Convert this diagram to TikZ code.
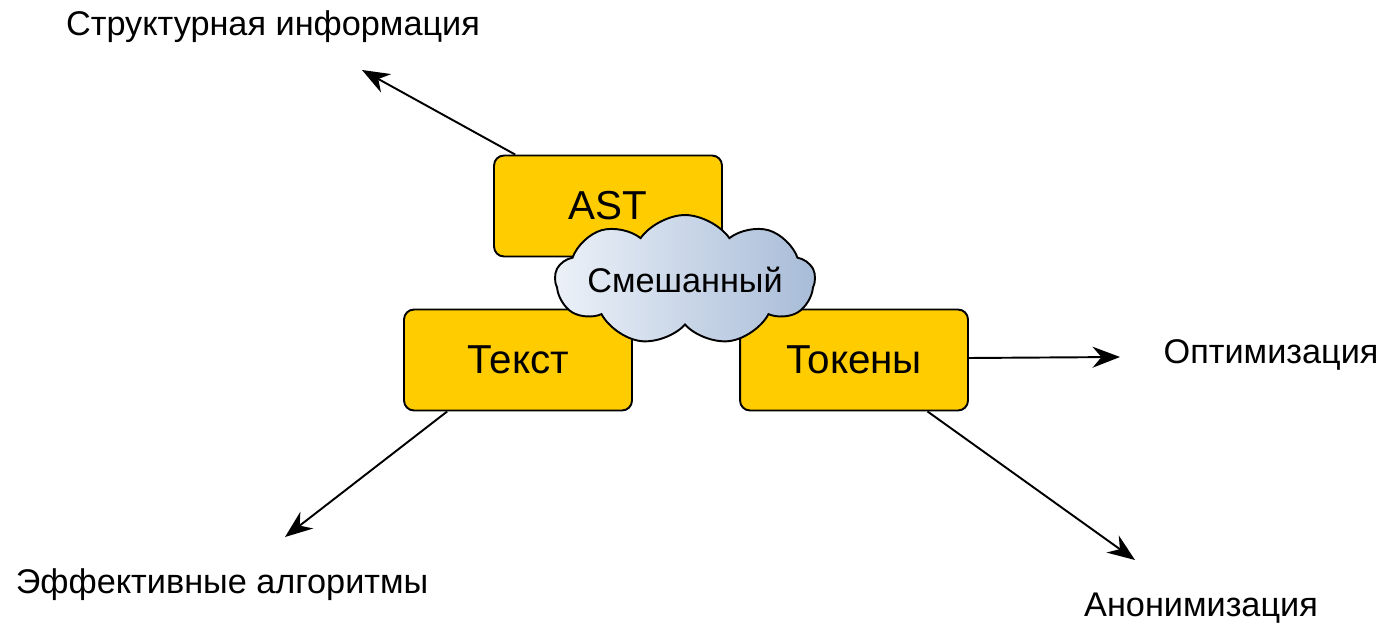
\documentclass[tikz,border=0pt]{standalone}
\usepackage{fontspec}
\setmainfont{Liberation Sans}
\usetikzlibrary{shapes.symbols,arrows.meta}
\definecolor{boxgold}{RGB}{255,204,0}
\definecolor{cloudlight}{RGB}{236,241,248}
\definecolor{clouddark}{RGB}{168,188,216}

\begin{document}
\begin{tikzpicture}[x=0.02cm,y=-0.02cm,
  kind/.style={rectangle,rounded corners=0.2cm,draw,line width=1.1pt,fill=boxgold,
    minimum width=4.56cm,minimum height=2.02cm,inner sep=0pt,font=\fontsize{23}{27}\selectfont},
  mixcloud/.style={cloud,cloud puffs=9,cloud puff arc=110,cloud ignores aspect,draw,line width=1.1pt,
    left color=cloudlight,right color=clouddark,minimum width=5.2cm,minimum height=2.6cm,
    inner xsep=-9pt,inner ysep=-4pt,font=\fontsize{19.5}{23}\selectfont},
  use/.style={font=\fontsize{19.5}{23}\selectfont,inner sep=0pt},
  arr/.style={-{Stealth[length=0.55cm,width=0.42cm]},line width=1.1pt}]
\useasboundingbox (0,0) rectangle (1381,625);
\node (ast)[kind] at (608,206) {AST};
\node (text)[kind] at (518,360) {Текст};
\node (tokens)[kind] at (854,360) {Токены};
\node (mix)[mixcloud] at (685,280) {Смешанный};
% targets
\node (struct)[use] at (273,27) {Структурная информация};
\node (opt)[use] at (1271,355) {Оптимизация};
\node (eff)[use] at (222,585) {Эффективные алгоритмы};
\node (anon)[use] at (1201,608) {Анонимизация};
\coordinate (tstruct) at (362,70);
\coordinate (topt) at (1120,357);
\coordinate (teff) at (285,537);
\coordinate (tanon) at (1135,560);
\foreach \from/\to in {ast.151/tstruct,tokens.1.5/topt,text.-144.5/teff,tokens.-35.2/tanon}
\draw[arr] (\from) -- (\to);
\end{tikzpicture}
\end{document}
